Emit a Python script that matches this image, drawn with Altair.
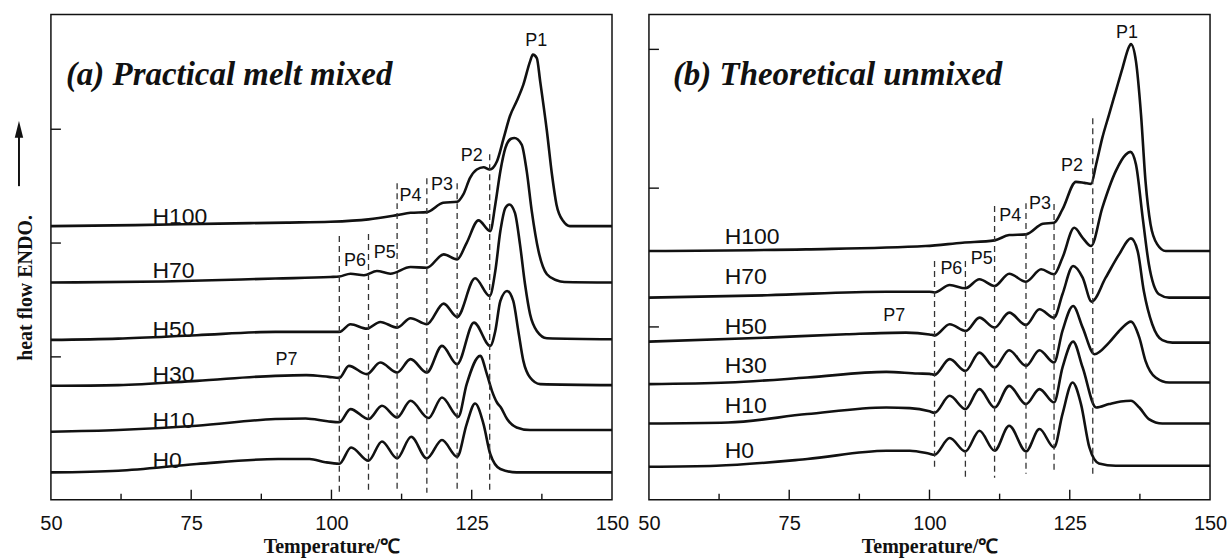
import altair as alt
import pandas as pd

# Axis set-up shared by both panels
X_DOMAIN = [50, 150]
Y_DOMAIN = [0, 486]
X_LABELS = [50, 75, 100, 125, 150]
X_MAJOR_TICKS = [75, 100, 125]
X_MINOR_TICKS = [62.5, 87.5, 112.5, 137.5]
SERIES = ["H100", "H70", "H50", "H30", "H10", "H0"]
PEAKS = ["P1", "P2", "P3", "P4", "P5", "P6", "P7"]

# (a) practical melt mixed: (temperature in C, heat flow in arbitrary units)
A_H100 = [(50, 274), (65, 275), (80, 276.5), (92, 277.5), (99.8, 278.3), (106.6, 280.7),
          (111.7, 285), (114.1, 287.3), (117.0, 288), (119.9, 297.3), (122.4, 298.3),
          (123.5, 305.7), (124.7, 322.3), (125.9, 330.7), (127.1, 333), (128.2, 330.7),
          (129.5, 339), (130.7, 362.3), (131.8, 384), (133.0, 399), (134.2, 415.7),
          (135.4, 439), (135.9, 445.7), (136.6, 442.3), (137.2, 419), (138.4, 369),
          (139.3, 325.7), (140.1, 295.7), (141.3, 279), (142.5, 274), (150, 274)]
A_H70 = [(50, 217.5), (70, 218.5), (90, 221.5), (99.8, 223), (101.4, 223.5), (103.4, 226.3),
         (105.8, 224.7), (108.1, 229), (110.5, 226.3), (114.1, 233), (117.0, 232.3),
         (120.0, 245.7), (122.4, 240.7), (124.1, 257.3), (126.2, 279.7), (128.3, 269),
         (129.2, 295.7), (130.1, 329), (131.0, 352.3), (132.0, 361.5), (132.6, 362.3),
         (133.9, 355.7), (134.8, 329), (135.7, 289), (136.9, 249), (138.4, 225.7),
         (140.1, 219.7), (141.5, 218), (150, 217.5)]
A_H50 = [(50, 160), (62, 161.3), (76, 164.7), (90, 168), (99.8, 168), (101.4, 168),
         (103.4, 175.7), (106.3, 171.3), (108.7, 178), (111.7, 172.3), (114.1, 181.7),
         (117.0, 175.7), (120.0, 196.3), (122.4, 183), (125.6, 221.7), (128.2, 204),
         (129.2, 229), (130.1, 269), (131.0, 292.3), (131.7, 295.7), (132.7, 287.3),
         (133.6, 255.7), (134.5, 215.7), (135.4, 185.7), (136.6, 169), (138.4, 161.7),
         (150, 160.7)]
A_H30 = [(50, 114), (62, 114.7), (76, 119), (90, 124), (95.5, 124.7), (99.5, 123),
         (101.4, 122), (103.1, 134), (106.3, 125.7), (108.7, 137.3), (111.7, 127.3),
         (114.1, 140.7), (117.0, 127.3), (119.7, 154), (122.4, 135.7), (125.4, 177.3),
         (128.3, 154), (129.2, 169), (130.1, 199), (131.3, 209), (132.4, 199),
         (133.3, 169), (134.2, 139), (135.4, 122.3), (137.2, 115.7), (150, 114.7)]
A_H10 = [(50, 68), (62, 69.7), (76, 74), (90, 80.7), (95.4, 81.3), (99.3, 78.5),
         (101.4, 77.5), (103.4, 90.7), (106.6, 80.7), (109.0, 94), (111.7, 82.3),
         (114.1, 99), (117.3, 81.7), (119.7, 102.3), (122.6, 83), (124.1, 115.7),
         (126.5, 144), (127.7, 125.7), (128.6, 109), (129.5, 97.3), (130.2, 92.3),
         (131.3, 80.7), (133.0, 72.3), (135.4, 69.7), (150, 69.7)]
A_H0 = [(50, 27.3), (62, 29), (76, 35.7), (90.5, 40.7), (96.1, 40.7), (98.9, 37.5),
        (101.4, 36), (103.5, 52.3), (106.6, 39), (109.0, 58.3), (111.7, 41.3),
        (114.2, 63), (117.0, 41.3), (119.7, 59.7), (122.4, 43), (124.1, 75.7),
        (125.6, 96.3), (127.1, 75.7), (128.3, 45.7), (130.1, 30.7), (133.0, 27.3),
        (150, 27.3)]

# (b) theoretical unmixed
B_H100 = [(50, 249), (78, 250.7), (99.3, 254), (105.9, 257.3), (111.6, 259.7),
          (114.2, 265), (117.2, 265.7), (120.2, 276.3), (122.2, 277.3), (123.7, 290.7),
          (126.1, 318.3), (127.6, 317.3), (128.8, 316.3), (129.7, 335.7), (130.8, 362.3),
          (132.0, 385.7), (133.2, 409), (134.4, 432.3), (135.6, 454), (135.9, 456.3),
          (136.8, 439), (137.7, 385.7), (138.5, 319), (139.4, 275.7), (140.6, 255.7),
          (142.1, 249), (150, 249)]
B_H70 = [(50, 202.3), (71.1, 204.7), (92.3, 208.3), (100.0, 208.3), (100.9, 207.5),
         (103.6, 215), (106.4, 211.7), (108.9, 220.7), (111.6, 214), (114.2, 226.3),
         (117.2, 218.3), (119.9, 230.7), (122.2, 225.7), (123.7, 242.3), (125.8, 272.3),
         (127.3, 262.3), (128.8, 254), (130.8, 292.3), (133.2, 329), (135.0, 345.7),
         (135.8, 348.3), (136.8, 335.7), (138.0, 282.3), (139.1, 235.7), (140.9, 205.7),
         (142.7, 202.3), (150, 202.3)]
B_H50 = [(50, 158.3), (71.1, 162.3), (85.2, 165.7), (95.8, 167.3), (100.0, 165.5),
         (100.9, 164.5), (103.6, 175.7), (106.5, 169), (108.9, 182.3), (111.6, 172.3),
         (114.2, 187.3), (117.2, 175), (119.6, 190.7), (122.2, 182.3), (123.7, 205.7),
         (125.6, 234), (127.3, 222.3), (128.9, 198.3), (131.4, 222.3), (133.8, 245.7),
         (135.9, 261.7), (137.1, 249), (138.2, 209), (139.7, 175.7), (141.5, 159.7),
         (143.3, 157.3), (150, 157.3)]
B_H30 = [(50, 115.7), (64.1, 117.3), (78.2, 122.3), (92.3, 128), (97.9, 126.3),
         (100.0, 126), (100.9, 125), (103.6, 140.7), (106.4, 129), (108.9, 147.3),
         (111.6, 132.3), (114.2, 149.7), (117.2, 134), (119.6, 149.7), (122.2, 137.3),
         (123.7, 169), (125.6, 194), (127.3, 172.3), (129.4, 145.7), (132.0, 157.3),
         (134.1, 170.7), (135.9, 178.3), (137.4, 162.3), (138.5, 139), (140.3, 122.3),
         (142.7, 117.3), (150, 117.3)]
B_H10 = [(50, 76.3), (64.1, 77.3), (78.2, 85.7), (92.3, 92.3), (96.5, 91.7), (100.0, 88.5),
         (100.9, 87), (103.6, 104), (106.4, 90.7), (108.9, 110.7), (111.6, 92.3),
         (114.2, 114), (117.2, 95.7), (119.6, 110.7), (122.2, 97.3), (123.7, 132.3),
         (125.6, 158.3), (127.3, 132.3), (129.7, 92.3), (132.0, 95.7), (134.1, 98.3),
         (135.9, 99), (137.4, 92.3), (139.1, 80.7), (141.5, 76.3), (150, 76.3)]
B_H0 = [(50, 33), (62, 34), (78.2, 40.7), (92.3, 49), (96.5, 49), (100.0, 46),
        (100.9, 45), (103.6, 61.7), (106.4, 48.3), (108.9, 69), (111.6, 49),
        (114.2, 74), (117.2, 48.3), (119.6, 70.7), (122.2, 52.3), (123.7, 85.7),
        (125.5, 117.3), (127.0, 95.7), (128.5, 52.3), (130.2, 36.3), (133.2, 34),
        (150, 34)]

# Dashed boundaries between the melting peaks
A_DASH_T = [101.4, 106.6, 111.7, 117.0, 122.4, 128.2]
A_DASH_TOP = [264, 266, 317, 322, 317, 346]
A_DASH_BOTTOM = [7, 7, 7, 7, 7, 7]
B_DASH_T = [100.9, 106.4, 111.6, 117.2, 122.2, 129.1]
B_DASH_TOP = [239, 239, 294, 297, 296, 382]
B_DASH_BOTTOM = [29, 19, 22, 26, 26, 26]

# Peak labels P1..P7
A_PEAK_T = [136.5, 125.0, 119.7, 114.1, 109.5, 104.2, 92.0]
A_PEAK_V = [454, 339, 310, 299, 242, 234, 135]
B_PEAK_T = [135.2, 125.4, 119.7, 114.4, 109.3, 103.9, 93.7]
B_PEAK_V = [462, 329, 291, 279, 236, 226, 179]

# Sample name labels
A_NAME_T = 68.1
A_NAME_V = [276, 222, 163, 118, 72, 32]
B_NAME_T = 63.5
B_NAME_V = [256, 216, 166, 127, 87, 42]

# Inner tick marks on the heat-flow axis
A_YTICKS = [371, 257, 143]
B_YTICKS = [451, 312, 173]

PLOT_W = 562
PLOT_H = 486
SANS = "Liberation Sans"
SERIF = "Liberation Serif"
INK = "#111111"


def panel(curves, dash_t, dash_top, dash_bot, peak_t, peak_v, name_t, name_v,
          yticks, title, title_x, with_ytitle):
    x = alt.X("T:Q",
              scale=alt.Scale(domain=X_DOMAIN, nice=False, zero=False),
              axis=alt.Axis(values=X_LABELS, format="d", domain=False, ticks=False,
                            tickSize=0, grid=False, labelFont=SANS, labelFontSize=20,
                            labelColor=INK, labelPadding=14, labelFlush=False,
                            title="Temperature/℃", titleFont=SERIF,
                            titleFontWeight="bold", titleFontSize=20,
                            titleColor=INK, titleY=53, titleBaseline="alphabetic"))
    y = alt.Y("v:Q", scale=alt.Scale(domain=Y_DOMAIN, nice=False, zero=False), axis=None)

    rows = []
    for name, pts in zip(SERIES, curves):
        for t, v in pts:
            rows.append({"series": name, "T": t, "v": v})
    curve_df = pd.DataFrame(rows)

    lines = alt.Chart(curve_df).mark_line(
        interpolate="monotone", color=INK, strokeWidth=2.6
    ).encode(x=x, y=y, detail="series:N")

    dash_df = pd.DataFrame({"T": dash_t, "v": dash_top, "v2": dash_bot})
    dashes = alt.Chart(dash_df).mark_rule(
        color="#333333", strokeWidth=1.3, strokeDash=[6, 4]
    ).encode(x=x, y=y, y2="v2:Q")

    major = alt.Chart(pd.DataFrame({"T": X_MAJOR_TICKS})).mark_rule(
        color=INK, strokeWidth=1.4
    ).encode(x=x, y=alt.value(PLOT_H), y2=alt.value(PLOT_H - 10))
    minor = alt.Chart(pd.DataFrame({"T": X_MINOR_TICKS})).mark_rule(
        color=INK, strokeWidth=1.4
    ).encode(x=x, y=alt.value(PLOT_H), y2=alt.value(PLOT_H - 6))
    yt = alt.Chart(pd.DataFrame({"v": yticks})).mark_rule(
        color=INK, strokeWidth=1.4
    ).encode(y=y, x=alt.value(0), x2=alt.value(10))

    peak_df = pd.DataFrame({"T": peak_t, "v": peak_v, "label": PEAKS})
    peaks = alt.Chart(peak_df).mark_text(
        font=SANS, fontSize=18, color=INK, align="center", baseline="alphabetic"
    ).encode(x=x, y=y, text="label:N")

    name_df = pd.DataFrame({"T": [name_t] * len(SERIES), "v": name_v, "label": SERIES})
    names = alt.Chart(name_df).mark_text(
        font=SANS, fontSize=23, color=INK, align="left", baseline="alphabetic"
    ).encode(x=x, y=y, text="label:N")

    head = alt.Chart(pd.DataFrame({"label": [title]})).mark_text(
        font=SERIF, fontSize=33, fontWeight="bold", fontStyle="italic", color=INK,
        align="left", baseline="alphabetic"
    ).encode(x=alt.value(title_x), y=alt.value(71), text="label:N")

    layers = [lines, dashes, major, minor, yt, peaks, names, head]

    if with_ytitle:
        ytitle = alt.Chart(pd.DataFrame({"label": ["heat flow ENDO."]})).mark_text(
            font=SERIF, fontSize=20, fontWeight="bold", color=INK, angle=270,
            align="center", baseline="middle"
        ).encode(x=alt.value(-25), y=alt.value(274), text="label:N")
        shaft = alt.Chart(pd.DataFrame({"k": [0]})).mark_rule(
            color=INK, strokeWidth=2
        ).encode(x=alt.value(-32), y=alt.value(118), y2=alt.value(172))
        tip = alt.Chart(pd.DataFrame({"k": [0]})).mark_point(
            shape="M0,-1L0.5,1L-0.5,1Z", size=289, filled=True, color=INK, opacity=1
        ).encode(x=alt.value(-32), y=alt.value(115))
        layers += [ytitle, shaft, tip]

    return alt.layer(*layers).properties(width=PLOT_W, height=PLOT_H)


left = panel([A_H100, A_H70, A_H50, A_H30, A_H10, A_H0],
             A_DASH_T, A_DASH_TOP, A_DASH_BOTTOM, A_PEAK_T, A_PEAK_V,
             A_NAME_T, A_NAME_V, A_YTICKS, "(a) Practical melt mixed", 15, True)
right = panel([B_H100, B_H70, B_H50, B_H30, B_H10, B_H0],
              B_DASH_T, B_DASH_TOP, B_DASH_BOTTOM, B_PEAK_T, B_PEAK_V,
              B_NAME_T, B_NAME_V, B_YTICKS, "(b) Theoretical unmixed", 24, False)

chart = alt.hconcat(left, right, spacing=37, bounds="flush").properties(
    padding={"left": 14, "top": 13, "right": 2, "bottom": 2},
    background="white",
).configure_view(stroke=INK, strokeWidth=1.5)

chart.save("out.html", embed_options={"renderer": "svg", "actions": False})
